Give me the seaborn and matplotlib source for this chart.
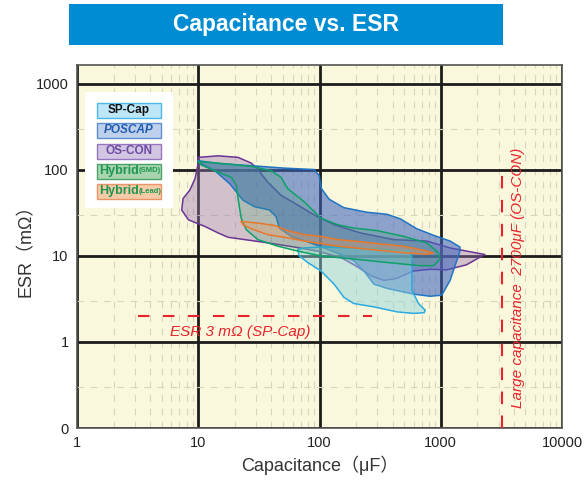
import numpy as np
import pandas as pd
import matplotlib
matplotlib.use("Agg")
import matplotlib.pyplot as plt
from matplotlib.patches import Rectangle
from matplotlib.ticker import FixedLocator, LogLocator, NullFormatter
import seaborn as sns

sns.set_style("white")
plt.rcParams["font.family"] = ["Liberation Sans", "Noto Sans CJK JP", "DejaVu Sans"]

# ---------- data: capacitance (uF) / ESR (mOhm) outlines ----------
oscon_cap = [10, 14.6, 21.3, 27.4, 31, 37.5, 48.2, 66.1, 90.4, 132, 218, 409, 767, 1194, 2307,
             1633, 1119, 818, 597, 436, 339, 264, 205, 150, 96.3, 62, 37.5, 24.1, 17.6, 14.6,
             11.3, 8.3, 7.3, 7.5, 8.5, 9.4, 9.9]
oscon_esr = [140, 146, 140, 120, 101, 72, 50.8, 39.1, 30, 23.1, 18.5, 15.5, 14.9, 12.4, 10.4,
             7.9, 6.9, 7.0, 6.7, 5.5, 5.2, 5.9, 7.5, 9.6, 11.4, 12.7, 14.2, 15.5, 16.5, 18.5,
             22.1, 26.3, 34.2, 46.6, 58, 79, 112]

poscap_cap = [10, 14.6, 27.4, 51.3, 90.4, 99.3, 103.8, 120, 159, 247, 361, 464, 635, 871, 1194,
              1440, 1440, 1194, 1019, 818, 597, 361, 281, 232, 192, 150, 109, 79.8, 58.2, 46.7,
              43.8, 38.7, 29.1, 23.4, 18.2, 13.7, 10.3]
poscap_esr = [128, 119, 112, 105, 101, 86, 60.6, 45.7, 36.4, 32.2, 30.5, 27, 20.7, 17.4, 14.9,
              12.7, 11.4, 5.2, 3.5, 3.4, 3.6, 4.2, 4.7, 6.7, 8.8, 10.4, 12.4, 14.6, 16.9, 21.1,
              28.7, 34.2, 37.4, 44.5, 69, 98, 120]

spcap_cap = [66.1, 74.8, 102.6, 192, 361, 561, 578, 578, 656, 745, 730, 597, 436, 281, 192,
             159, 132, 102.6, 79.8, 68.1]
spcap_esr = [11.9, 12.4, 12.7, 12.4, 11.9, 11.4, 9.6, 4.0, 2.8, 2.34, 2.19, 2.15, 2.24, 2.56,
             2.8, 3.3, 4.7, 6.7, 8.4, 10]

hyb_smd_cap = [10, 14.6, 27.4, 39.9, 48.2, 54.7, 74.8, 102.6, 141, 192, 299, 494, 767, 957, 988,
               871, 677, 361, 192, 102.6, 66.1, 45.3, 31, 24.9, 22.6, 21.5, 20.6, 18.8, 14.6, 10.6]
hyb_smd_esr = [125, 120, 110, 98, 82, 60.6, 42.7, 27.5, 23.1, 21.1, 19.7, 16.9, 14.2, 10.9, 9.2,
               7.7, 7.7, 8.4, 9.2, 10, 11.4, 13, 15.5, 20.2, 27.5, 42.7, 66, 82, 94, 114]

hyb_lead_cap = [22.6, 31, 42.5, 54.7, 74.8, 102.6, 141, 192, 318, 494, 767, 871, 767, 494, 264,
                141, 74.8, 54.7, 37.5, 27.4, 23.4]
hyb_lead_esr = [25.2, 24.1, 22.7, 19.7, 17.7, 16.9, 15.5, 14.9, 13.8, 13, 11.4, 10.8, 10.5, 10.9,
                11.9, 13, 14.9, 16.2, 17.7, 20.7, 23.1]

series_names = ["OS-CON", "POSCAP", "SP-Cap", "Hybrid(SMD)", "Hybrid(Lead)"]
series_caps = [oscon_cap, poscap_cap, spcap_cap, hyb_smd_cap, hyb_lead_cap]
series_esrs = [oscon_esr, poscap_esr, spcap_esr, hyb_smd_esr, hyb_lead_esr]

# reference markers
spcap_min_esr = 2
spcap_line_cap = [3.2, 270]
oscon_max_cap = 3200
oscon_line_esr = [0.1, 100]

x_ticks = [1, 10, 100, 1000, 10000]
x_labels = ["1", "10", "100", "1000", "10000"]
y_ticks = [0.1, 1, 10, 100, 1000]
y_labels = ["0", "1", "10", "100", "1000"]
y_minor = [0.3, 3, 30, 300]

# ---------- styles ----------
fill_colors = {"OS-CON": ("#9b76b4", 0.42), "POSCAP": ("#3f64bd", 0.58),
               "SP-Cap": ("#8fd3dd", 0.48), "Hybrid(SMD)": ("#3aa56a", 0.22),
               "Hybrid(Lead)": ("#f0a060", 0.35)}
edge_colors = {"OS-CON": "#6a3596", "POSCAP": "#1f74c4", "SP-Cap": "#29abe2",
               "Hybrid(SMD)": "#0ea068", "Hybrid(Lead)": "#e8782a"}
RED = "#e8232b"
BG = "#faf8dc"

fig = plt.figure(figsize=(5.87, 4.93), dpi=100)
ax = fig.add_axes([0.1312, 0.1318, 0.8262, 0.7364])
ax.set_facecolor(BG)
ax.set_xscale("log")
ax.set_yscale("log")

for i, (name, caps, esrs) in enumerate(zip(series_names, series_caps, series_esrs)):
    fc, a = fill_colors[name]
    ax.fill(caps, esrs, color=fc, alpha=a, lw=0, zorder=2 + i)
    outline = pd.DataFrame({"cap": caps + caps[:1], "esr": esrs + esrs[:1]})
    sns.lineplot(data=outline, x="cap", y="esr", sort=False, estimator=None,
                 color=edge_colors[name], lw=1.1, ax=ax, zorder=2.5 + i)

# red reference lines
ax.plot(spcap_line_cap, [spcap_min_esr] * 2, color=RED, lw=1.5, dashes=(5.5, 6.5), zorder=9)
ax.plot([oscon_max_cap] * 2, oscon_line_esr, color=RED, lw=1.5, dashes=(6, 5.5), zorder=9)
ax.text(22, 1.32, "ESR 3 mΩ (SP-Cap)", color=RED, style="italic", fontsize=11,
        ha="center", va="center", zorder=9)
ax.text(4330, 5.5, "Large capacitance  2700μF (OS-CON)", color=RED, style="italic",
        fontsize=11, rotation=90, ha="center", va="center", zorder=9)

# axes / grid
ax.set_xlim(1, 10000)
ax.set_ylim(0.1, 1660)
ax.set_xticks(x_ticks)
ax.set_xticklabels(x_labels)
ax.set_yticks(y_ticks)
ax.set_yticklabels(y_labels)
ax.xaxis.set_minor_locator(LogLocator(base=10, subs=np.arange(2, 10)))
ax.xaxis.set_minor_formatter(NullFormatter())
ax.yaxis.set_minor_locator(FixedLocator(y_minor))
ax.yaxis.set_minor_formatter(NullFormatter())
ax.set_axisbelow(True)
ax.grid(which="major", color="#1c1c1c", lw=2.0)
ax.grid(which="minor", color="#d6d4bd", lw=0.8, ls=(0, (6, 6)))
ax.tick_params(which="major", length=0, labelsize=10.5, labelcolor="#222222", pad=6)
ax.tick_params(axis="x", which="minor", direction="in", length=3.5, color="#999999")
ax.tick_params(axis="y", which="minor", length=0)
for s in ax.spines.values():
    s.set_color("#555555")
    s.set_linewidth(1.2)

ax.set_xlabel("Capacitance（μF）", fontsize=13, color="#333333", labelpad=4)
ax.set_ylabel("ESR（mΩ）", fontsize=13, color="#333333", labelpad=1)

# legend panel
ax.add_patch(Rectangle((0.0165, 0.606), 0.181, 0.3196, transform=ax.transAxes,
                       facecolor="white", edgecolor="none", zorder=10))
legend_items = [
    ("SP-Cap", "#bde6f7", "#4db8e8", "#111111"),
    ("POSCAP", "#bfd0ec", "#5b8fd0", "#1f5bb0"),
    ("OS-CON", "#d3c6e3", "#9675bf", "#6b4aa0"),
    ("Hybrid(SMD)", "#a8d5b0", "#4ba36a", "#1e9650"),
    ("Hybrid(Lead)", "#f6cba8", "#e8956a", "#1e9650"),
]
legend_y = [0.8747, 0.8196, 0.7617, 0.708, 0.6515]
for (label, fc, ec, tc), yc in zip(legend_items, legend_y):
    ax.add_patch(Rectangle((0.0412, yc - 0.0207), 0.132, 0.0413, transform=ax.transAxes,
                           facecolor=fc, edgecolor=ec, lw=1.0, zorder=11))
    if label.startswith("Hybrid"):
        ax.text(0.128, yc, "Hybrid", transform=ax.transAxes, ha="right", va="center",
                fontsize=9, fontweight="bold", color=tc, zorder=12)
        ax.text(0.128, yc, label[6:], transform=ax.transAxes, ha="left", va="center",
                fontsize=5.5, fontweight="bold", color=tc, zorder=12)
    else:
        kw = {"style": "italic"} if label == "POSCAP" else {}
        ax.text(0.107, yc, label, transform=ax.transAxes, ha="center", va="center",
                fontsize=8.5, fontweight="bold", color=tc, zorder=12, **kw)

# title banner
fig.add_artist(Rectangle((0.1175, 0.9087), 0.739, 0.0832, transform=fig.transFigure,
                         facecolor="#008cd2", edgecolor="none"))
fig.text(0.487, 0.951, "Capacitance vs. ESR", color="white", fontsize=16.5, fontweight="bold",
         ha="center", va="center")

fig.savefig("out.png", dpi=100)
